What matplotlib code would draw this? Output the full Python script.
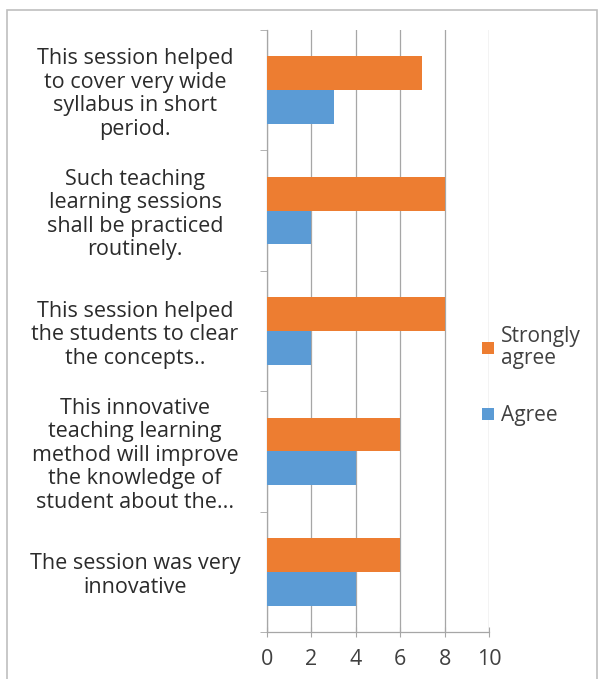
import matplotlib.pyplot as plt
import numpy as np
from matplotlib.patches import Rectangle

# ==================================================
# data, bottom category first (matplotlib draws y upwards)

statements = [
    "The session was very\ninnovative",
    "This innovative\nteaching learning\nmethod will improve\nthe knowledge of\nstudent about the...",
    "This session helped\nthe students to clear\nthe concepts..",
    "Such teaching\nlearning sessions\nshall be practiced\nroutinely.",
    "This session helped\nto cover very wide\nsyllabus in short\nperiod.",
]
strongly_agree = [6, 6, 8, 8, 7]
agree = [4, 4, 2, 2, 3]
x_ticks = [0, 2, 4, 6, 8, 10]

ORANGE = "#ED7D31"
BLUE = "#5B9BD5"
GRID = "#A6A6A6"
TEXT = "#404040"

plt.rcParams["font.family"] = ["Open Sans", "DejaVu Sans"]

# --------------------

fig = plt.figure(figsize=(6.03, 6.79), dpi=100)
fig.patches.append(Rectangle((0.011, -0.01), 0.979, 0.996, transform=fig.transFigure,
                             fill=False, edgecolor="#BFBFBF", linewidth=1.2))

ax = fig.add_axes([0.4428, 0.0692, 0.3682, 0.8866])

pos = np.arange(len(statements))
h = 0.28
ax.barh(pos + h / 2, strongly_agree, height=h, color=ORANGE, label="Strongly\nagree", zorder=3)
ax.barh(pos - h / 2, agree, height=h, color=BLUE, label="Agree", zorder=3)

ax.set_xlim(0, 10)
ax.set_ylim(-0.5, len(statements) - 0.5)

ax.set_xticks(x_ticks)
ax.xaxis.grid(True, color=GRID, linewidth=0.9, zorder=0)
ax.tick_params(axis="x", length=7, direction="inout", color=GRID,
               labelsize=15.5, labelcolor=TEXT, pad=9)

ax.set_yticks(pos, statements, ha="center", multialignment="center")
ax.set_yticks(np.arange(-0.5, len(statements)), minor=True)
ax.tick_params(axis="y", which="major", length=0, pad=95,
               labelsize=15.5, labelcolor="#2B2B2B")
ax.tick_params(axis="y", which="minor", length=5, color=GRID)
for t in ax.get_yticklabels():
    t.set_linespacing(1.16)

for side in ("top", "right"):
    ax.spines[side].set_visible(False)
for side in ("left", "bottom"):
    ax.spines[side].set_color(GRID)
    ax.spines[side].set_linewidth(0.9)

leg = ax.legend(loc="center left", bbox_to_anchor=(0.885, 0.425), frameon=False,
                handlelength=0.55, handleheight=0.55, handletextpad=0.35,
                labelspacing=1.75, fontsize=15)
for t in leg.get_texts():
    t.set_color(TEXT)
    t.set_linespacing(1.05)

fig.savefig("out.png", dpi=100)
